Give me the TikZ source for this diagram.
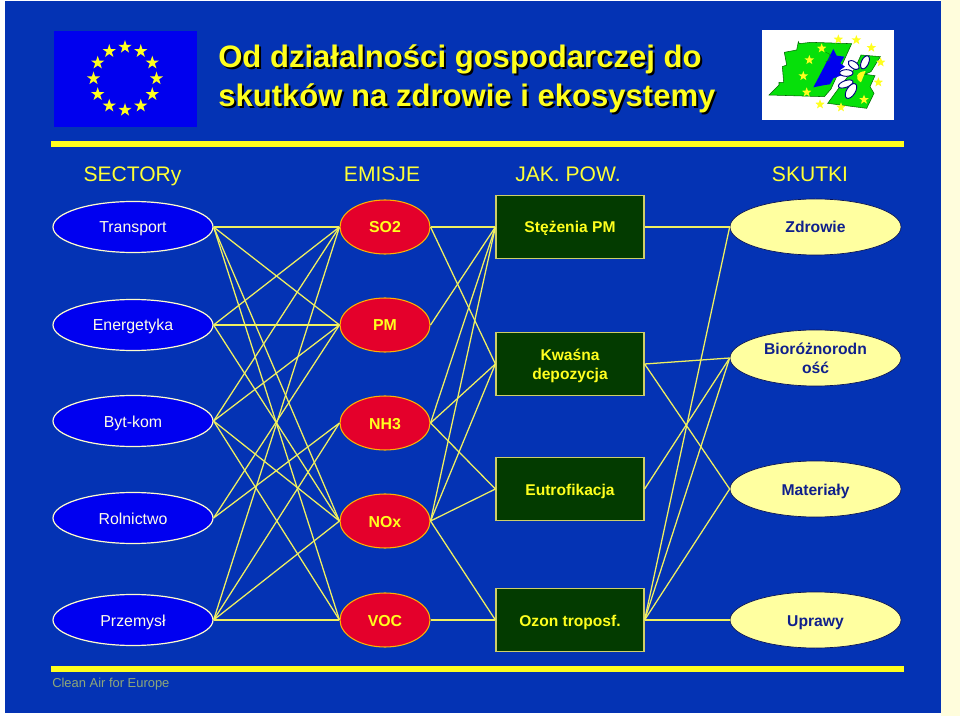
\documentclass[tikz,border=0pt]{standalone}
\usepackage{fontspec}
\setmainfont{Liberation Sans}
\usetikzlibrary{shapes.geometric}
\definecolor{bgblue}{HTML}{0433B4}
\definecolor{flagblue}{HTML}{0000EE}
\definecolor{sectorblue}{HTML}{0000F0}
\definecolor{linky}{HTML}{F0F060}
\definecolor{ylw}{HTML}{FFFF1E}
\definecolor{redn}{HTML}{E4002B}
\definecolor{darkgr}{HTML}{033B00}
\definecolor{cream}{HTML}{FFFFA0}
\definecolor{strip}{HTML}{FFFDDC}
\definecolor{navy}{HTML}{10208C}
\definecolor{footc}{HTML}{8FA878}
\definecolor{leaf}{HTML}{06E00A}
\newcommand{\fs}[2][1.2]{\fontsize{#2}{14.25}\selectfont}
\tikzset{
  oneline/.style={text height=9pt,text depth=0pt},
  sector/.style={ellipse,draw=white!80!yellow,line width=0.9pt,fill=sectorblue,text=white!90!yellow,minimum width=120pt,minimum height=38.25pt,inner sep=0pt,font=\fs{11.9},oneline},
  emission/.style={ellipse,draw=orange!60!yellow,line width=0.8pt,fill=redn,text=ylw,minimum width=67.5pt,minimum height=40.5pt,inner sep=0pt,font=\fs{11.9}\bfseries,oneline},
  quality/.style={rectangle,draw=linky!70!gray,line width=0.9pt,fill=darkgr,text=ylw,minimum width=111pt,minimum height=47.25pt,inner sep=0pt,align=center,font=\fs{11.7}\bfseries},
  effect/.style={ellipse,draw=navy!60!black,line width=0.5pt,fill=cream,text=navy,minimum width=128.25pt,minimum height=42pt,inner sep=0pt,align=center,font=\fs{11.75}\bfseries},
  link/.style={draw=linky,line width=0.95pt},
  headt/.style={text=ylw!90!white,font=\fs{15.8},inner sep=0pt,anchor=base},
  bar/.style={fill=ylw,draw=none},
  flagstar/.style={star,star points=5,star point ratio=2.6,fill=ylw,draw=none,minimum size=10.5pt,inner sep=0pt},
  smallstar/.style={star,star points=5,star point ratio=2.4,fill=ylw,draw=none,minimum size=7.5pt,inner sep=0pt},
  titlet/.style={anchor=base west,inner sep=0pt,font=\fs{23.3}\bfseries},
  petal/.style={fill=white,draw=black!50!blue,line width=0.7pt},
  leafpart/.style={fill=leaf,draw=black!60!green,line width=0.4pt},
}
\begin{document}
\begin{tikzpicture}[x=0.75pt,y=-0.75pt]
\useasboundingbox (0,0) rectangle (960,716);
\fill[white] (0,0) rectangle (960,716);
\fill[strip] (941,0) rectangle (960,716);
\fill[bgblue] (5,1) rectangle (941,713);
% flag
\fill[flagblue] (54,31) rectangle (197,127);
\foreach \a in {0,30,...,330}
  \node[flagstar] at ({125+31.5*cos(\a)},{78.5+31.5*sin(\a)}) {};
% logo
\fill[white] (762,30) rectangle (894,120);
\begin{scope}[shift={(755,25)},x=0.25pt,y=-0.25pt]
  \path[leafpart] (130,50) -- (133,56) -- (168,52) -- (290,56) -- (228,192) -- (208,215) -- (42,210) -- (72,180) -- (72,172) -- (86,172) -- (82,125) -- (95,120) -- (88,82) -- (125,75) -- cycle;
  \path[leafpart] (318,90) -- (376,95) -- (348,140) -- (330,148) -- (360,152) -- (345,185) -- (357,205) -- (335,250) -- (218,235) -- (262,175) -- (300,130) -- cycle;
  \fill[flagblue] (235,72) -- (245,92) -- (268,95) -- (256,115) -- (270,125) -- (255,135) -- (262,150) -- (235,160) -- (225,178) -- (210,180) -- (175,187) -- (205,130) -- cycle;
  \draw[leaf!60!black,line width=0.3pt] (212,110) arc (90:-90:14);
  \path[petal,rotate around={65:(330,112)}] (330,112) ellipse (21 and 11);
  \path[petal,rotate around={-35:(296,120)}] (296,120) ellipse (19 and 10);
  \path[petal] (274,144) ellipse (20 and 10);
  \path[petal,rotate around={20:(272,177)}] (272,177) ellipse (23 and 10);
  \path[petal,rotate around={58:(288,198)}] (288,198) ellipse (25 and 13);
  \fill[ylw] (332,138) -- (318,172) .. controls (296,160) and (305,140) .. (332,138) -- cycle;
  \foreach \p in {(200,70),(163,105),(145,153),(155,202),(250,43),(304,45),(349,68),(377,112),(370,172),(327,224),(258,247),(195,238)}
    \node[smallstar] at \p {};
\end{scope}
% title
\node[titlet,text=black] at (220,70) {Od działalności gospodarczej do};
\node[titlet,text=black] at (220,109) {skutków na zdrowie i ekosystemy};
\node[titlet,text=ylw] (t1) at (218,68) {Od działalności gospodarczej do};
\node[titlet,text=ylw] (t2) at (218,107) {skutków na zdrowie i ekosystemy};
% bars
\fill[bar] (51,141) rectangle (904,147);
\fill[bar] (51,666) rectangle (904,672);
% headers
\node[headt] (h1) at (132.5,181.5) {SECTORy};
\node[headt] (h2) at (382,181.5) {EMISJE};
\node[headt] (h3) at (568,181.5) {JAK. POW.};
\node[headt] (h4) at (810,181.5) {SKUTKI};
% nodes
\foreach \n/\y/\t in {T/227/Transport,E/325/Energetyka,B/421/Byt-kom,R/518/Rolnictwo,P/620/Przemysł}
  \node[sector] (\n) at (133,\y) {\t};
\foreach \n/\y/\t in {so/227/SO2,pm/325/PM,nh/423/NH3,no/521/NOx,vo/620/VOC}
  \node[emission] (\n) at (385,\y) {\t};
\node[quality,oneline] (q1) at (570,227) {Stężenia PM};
\node[quality] (q2) at (570,364) {\rule{0pt}{10.8pt}Kwaśna\\depozycja};
\node[quality,oneline] (q3) at (570,489) {Eutrofikacja};
\node[quality,oneline] (q4) at (570,620) {Ozon troposf.};
\node[effect,oneline] (z1) at (815.5,227) {Zdrowie};
\node[effect] (z2) at (815.5,358) {Bioróżnorodn\\ość};
\node[effect,oneline] (z3) at (815.5,489) {Materiały};
\node[effect,oneline] (z4) at (815.5,620) {Uprawy};
% links
\foreach \a/\b in {T/so,T/pm,T/no,T/vo,E/so,E/pm,E/no,B/so,B/pm,B/no,B/vo,R/pm,R/nh,P/so,P/nh,P/no,P/vo}
  \draw[link] (\a.east) -- (\b.west);
\foreach \a/\b in {so/q1,pm/q1,nh/q1,no/q1,so/q2,nh/q2,no/q2,nh/q3,no/q3,no/q4,vo/q4}
  \draw[link] (\a.east) -- (\b.west);
\foreach \a/\b in {q1/z1,q2/z2,q2/z3,q3/z2,q4/z1,q4/z2,q4/z3,q4/z4}
  \draw[link] (\a.east) -- (\b.west);
% footer
\node[anchor=base west,inner sep=0pt,text=footc,font=\fs{9.7}] (foot) at (52,687) {Clean Air for Europe};
\end{tikzpicture}
\end{document}
